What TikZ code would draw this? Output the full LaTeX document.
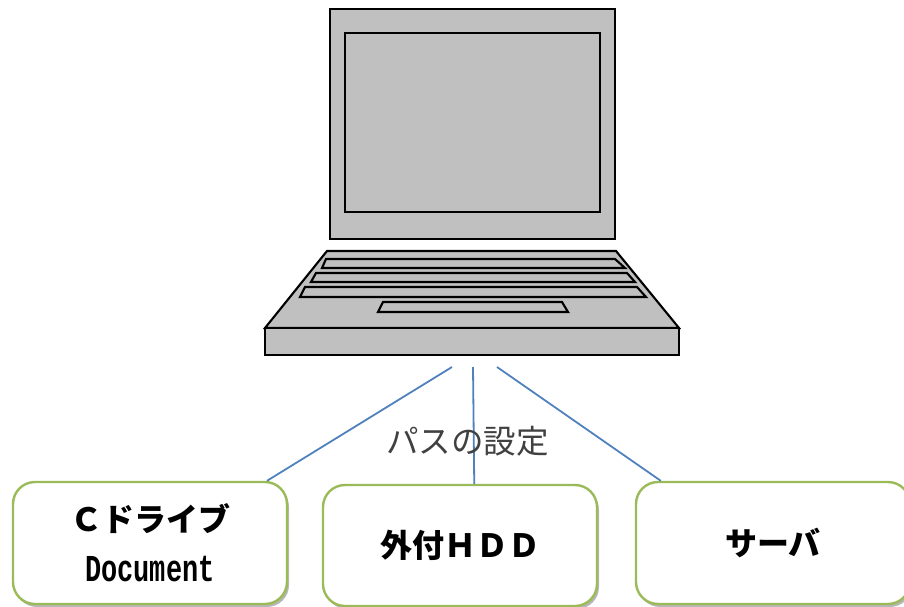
\documentclass[tikz,border=0pt]{standalone}
\usepackage{fontspec}
\usetikzlibrary{shadows}
\newfontfamily\jpfont{Noto Sans CJK JP}
\newfontfamily\docfont[FakeStretch=0.71]{Liberation Mono}
\definecolor{lapgray}{HTML}{C0C0C0}
\definecolor{boxgreen}{HTML}{9BBB59}
\definecolor{linkblue}{HTML}{4F81BD}
\tikzset{
  lap/.style={draw=black,fill=lapgray,line width=2.1pt,line join=miter},
  link/.style={draw=linkblue,line width=1.8pt},
  pathbox/.style={draw=boxgreen,fill=white,line width=2.4pt,rounded corners=22pt,
    minimum width=274pt,inner sep=0pt,align=center,
    font=\jpfont\bfseries\fontsize{32}{48}\selectfont,
    drop shadow={shadow xshift=2pt,shadow yshift=-3pt,opacity=.4,fill=black!70}},
}
\begin{document}
\begin{tikzpicture}[x=1pt,y=-1pt]
\useasboundingbox (0,0) rectangle (904,607);
% screen
\draw[lap] (330,9) rectangle (615,239);
\draw[lap] (345,33) rectangle (600,212);
% base
\draw[lap] (327,251) -- (616,251) -- (679,328) -- (265,328) -- cycle;
\draw[lap] (265,328) rectangle (679,355);
\draw[lap] (326,259) -- (615,259) -- (625,268) -- (322,268) -- cycle;
\draw[lap] (316,273) -- (627,273) -- (635,282) -- (311,282) -- cycle;
\draw[lap] (305,287) -- (637,287) -- (646,297) -- (300,297) -- cycle;
\draw[lap] (383,302) -- (562,302) -- (568,312) -- (378,312) -- cycle;
% connector start points under the laptop
\coordinate (p1) at (452,367);
\coordinate (p2) at (473,367);
\coordinate (p3) at (497,367);
% boxes
\node[pathbox,minimum height=122pt] (b1) at (150,543) {Ｃドライブ\\[2pt]{\docfont\fontsize{38}{40}\selectfont Document}};
\node[pathbox,minimum height=121pt] (b2) at (460,545.5) {外付ＨＤＤ};
\node[pathbox,minimum height=122pt] (b3) at (773,543) {サーバ};
% connectors
\draw[link] (p1) -- (b1.28.4);
\draw[link] (p2) -- (b2.77.8);
\draw[link] (p3) -- (b3.151.2);
\node[font=\jpfont\fontsize{32.5}{33}\selectfont,text=black!75,inner sep=0pt] (lbl) at (467.5,441) {パスの設定};
\end{tikzpicture}
\end{document}
